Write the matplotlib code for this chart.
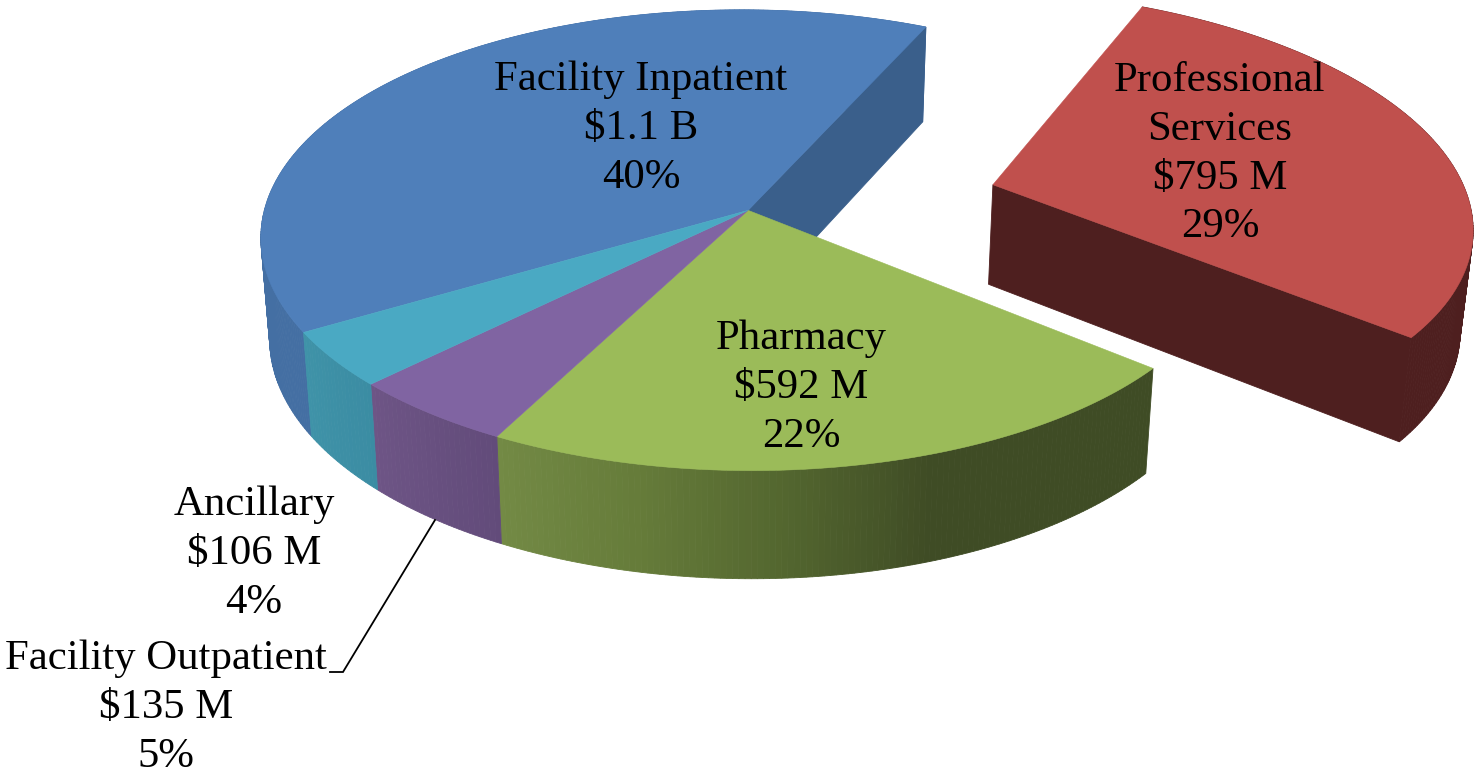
import numpy as np
import matplotlib
matplotlib.use('Agg')
import matplotlib.pyplot as plt
from matplotlib.colors import to_rgb

# ---- data ----
categories = ['Facility Inpatient', 'Professional\nServices', 'Pharmacy',
              'Facility Outpatient', 'Ancillary']
spend_millions = [1100, 795, 592, 135, 106]
spend_labels = ['$1.1 B', '$795 M', '$592 M', '$135 M', '$106 M']
percent_labels = [40, 29, 22, 5, 4]

# ---- style ----
top_colors = ['#4f7fba', '#c0504d', '#9bbb59', '#8064a2', '#4aa9c3']
wall_stops = [['#446fa3', '#446fa3'],
              ['#4e1f1f', '#4e1f1f'],
              ['#3f4c25', '#3f4c25', '#3f4c25', '#53662f', '#667c3a', '#738a45'],
              ['#624b7a', '#6e5586'],
              ['#3b8ca3', '#3f93a8']]
cut_colors = {0: '#3a5f8b', 1: '#4e1f1f'}
explode = [0, 0.531, 0, 0, 0]
label_xy = [(641, 129), (1220, 154), (801, 388), (166, 708), (254, 554)]

# plane-to-pixel homography of the pie's top face (3-D view)
H = np.array([[-163.992749, -465.527843, 748.095795],
              [-172.767661, 99.151949, 210.33701],
              [0.109981, -0.069034, 1.0]])


def project(u, w):
    p = H @ np.vstack([u, w, np.ones_like(u)])
    return p[0] / p[2], p[1] / p[2]


def drop(x, y):
    """Carry a top-face pixel down to the base of the pie."""
    return x - 0.018 * (x - 750), y + 94 + 0.03 * y


fig = plt.figure(figsize=(14.8, 7.74), dpi=100)
ax = fig.add_axes([0, 0, 1, 1])
ax.set_xlim(0, 1480)
ax.set_ylim(774, 0)
ax.axis('off')

fractions = np.array(spend_millions, float) / sum(spend_millions)
edges = np.concatenate([[0], np.cumsum(fractions)]) * 2 * np.pi


def slice_geometry(i):
    a0, a1 = edges[i], edges[i + 1]
    mid = (a0 + a1) / 2
    ou, ow = explode[i] * np.sin(mid), explode[i] * np.cos(mid)
    ang = np.linspace(a0, a1, max(int((a1 - a0) * 90), 12))
    return ang, ou, ow


# walls first
for i in range(len(spend_millions)):
    ang, ou, ow = slice_geometry(i)
    x, y = project(ou + np.sin(ang), ow + np.cos(ang))
    bx, by = drop(x, y)
    stops = np.array([to_rgb(c) for c in wall_stops[i]])
    pos = np.linspace(0, 1, len(stops))
    for k in range(len(ang) - 1):
        t = (k + .5) / (len(ang) - 1)
        col = [np.interp(t, pos, stops[:, n]) for n in range(3)]
        ax.fill([x[k], x[k + 1], bx[k + 1], bx[k]],
                [y[k], y[k + 1], by[k + 1], by[k]],
                color=col, lw=0.6, zorder=2)
    if i in cut_colors:
        cx, cy = project(np.array([ou]), np.array([ow]))
        dcx, dcy = drop(cx[0], cy[0])
        dex, dey = drop(x[-1], y[-1])
        ax.fill([cx[0], x[-1], dex, dcx], [cy[0], y[-1], dey, dcy],
                color=cut_colors[i], lw=0.6, zorder=3)

# top faces
for i in range(len(spend_millions)):
    ang, ou, ow = slice_geometry(i)
    x, y = project(ou + np.sin(ang), ow + np.cos(ang))
    cx, cy = project(np.array([ou]), np.array([ow]))
    ax.fill(np.r_[cx, x], np.r_[cy, y], color=top_colors[i], lw=0.4, zorder=4)

# leader line for Facility Outpatient
ax.plot([435, 343, 330], [520, 672, 672], color='black', lw=1.3, zorder=5,
        solid_joinstyle='miter')

# labels
for name, amt, pct, (lx, ly) in zip(categories, spend_labels, percent_labels, label_xy):
    ax.text(lx, ly, f'{name}\n{amt}\n{pct}%', ha='center', va='center', color='black',
            family='Liberation Serif', fontsize=30.8, linespacing=1.35, zorder=6)

fig.savefig('out.png', dpi=100)
